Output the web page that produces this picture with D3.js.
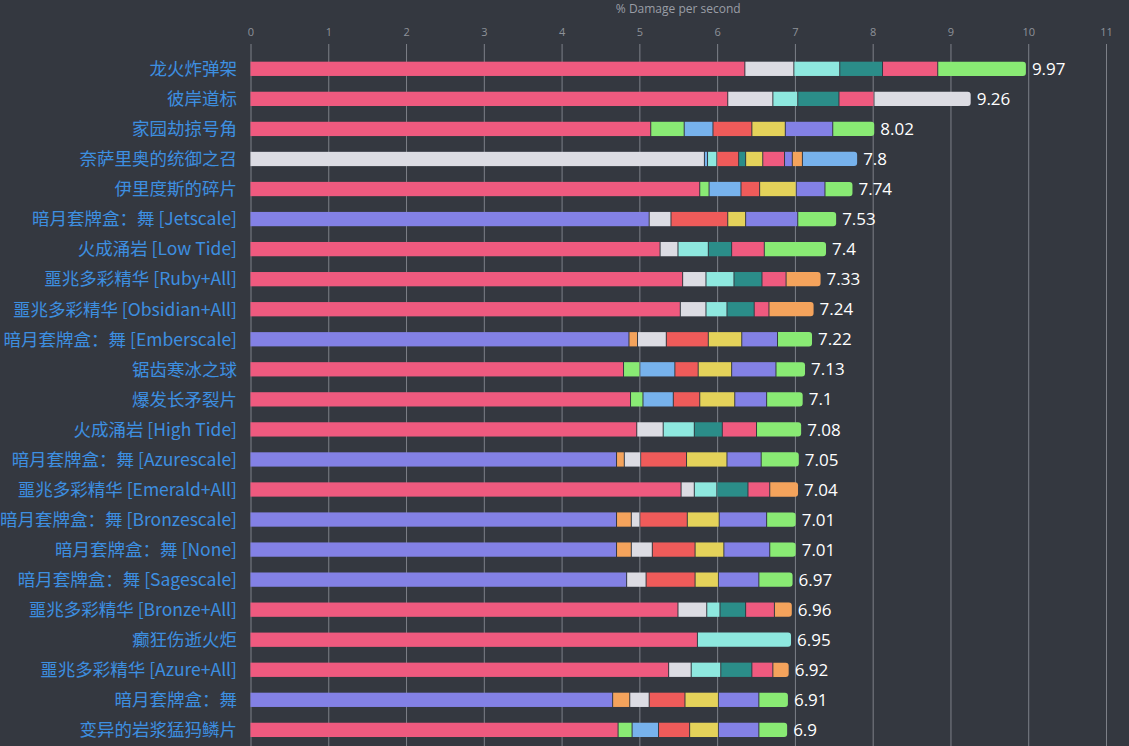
<!DOCTYPE html>
<html>
<head>
<meta charset="utf-8">
<script src="https://cdn.jsdelivr.net/npm/d3@7"></script>
<style>
  html, body { margin: 0; padding: 0; background: #343840; }
  svg { display: block; }
</style>
</head>
<body>
<svg id="chart" width="1129" height="746"></svg>
<script>
const categories = [
  "龙火炸弹架", "彼岸道标", "家园劫掠号角", "奈萨里奥的统御之召", "伊里度斯的碎片",
  "暗月套牌盒：舞 [Jetscale]", "火成涌岩 [Low Tide]", "噩兆多彩精华 [Ruby+All]",
  "噩兆多彩精华 [Obsidian+All]", "暗月套牌盒：舞 [Emberscale]", "锯齿寒冰之球",
  "爆发长矛裂片", "火成涌岩 [High Tide]", "暗月套牌盒：舞 [Azurescale]",
  "噩兆多彩精华 [Emerald+All]", "暗月套牌盒：舞 [Bronzescale]", "暗月套牌盒：舞 [None]",
  "暗月套牌盒：舞 [Sagescale]", "噩兆多彩精华 [Bronze+All]", "癫狂伤逝火炬",
  "噩兆多彩精华 [Azure+All]", "暗月套牌盒：舞", "变异的岩浆猛犸鳞片"
];
const totals = [9.97, 9.26, 8.02, 7.8, 7.74, 7.53, 7.4, 7.33, 7.24, 7.22, 7.13, 7.1,
  7.08, 7.05, 7.04, 7.01, 7.01, 6.97, 6.96, 6.95, 6.92, 6.91, 6.9];
// increment of each stacked segment, per category
const segmentValues = [
  [6.35, 0.63, 0.59, 0.55, 0.71, 1.14],
  [6.13, 0.58, 0.32, 0.53, 0.45, 1.25],
  [5.14, 0.43, 0.37, 0.50, 0.43, 0.61, 0.54],
  [5.83, 0.04, 0.12, 0.28, 0.09, 0.22, 0.28, 0.10, 0.13, 0.71],
  [5.77, 0.12, 0.41, 0.24, 0.47, 0.37, 0.36],
  [5.12, 0.28, 0.73, 0.23, 0.67, 0.50],
  [5.26, 0.23, 0.39, 0.30, 0.42, 0.80],
  [5.55, 0.30, 0.36, 0.36, 0.31, 0.45],
  [5.52, 0.33, 0.27, 0.35, 0.19, 0.58],
  [4.86, 0.11, 0.37, 0.54, 0.43, 0.46, 0.45],
  [4.79, 0.21, 0.45, 0.30, 0.43, 0.57, 0.38],
  [4.88, 0.16, 0.39, 0.34, 0.45, 0.41, 0.47],
  [4.96, 0.34, 0.40, 0.36, 0.44, 0.58],
  [4.70, 0.10, 0.21, 0.59, 0.52, 0.44, 0.49],
  [5.53, 0.17, 0.29, 0.40, 0.28, 0.37],
  [4.70, 0.19, 0.11, 0.61, 0.41, 0.61, 0.38],
  [4.70, 0.19, 0.27, 0.55, 0.37, 0.59, 0.34],
  [4.83, 0.25, 0.63, 0.30, 0.52, 0.44],
  [5.49, 0.37, 0.17, 0.33, 0.37, 0.23],
  [5.74, 1.21],
  [5.37, 0.29, 0.38, 0.40, 0.27, 0.21],
  [4.65, 0.22, 0.25, 0.46, 0.43, 0.52, 0.38],
  [4.72, 0.18, 0.34, 0.40, 0.37, 0.52, 0.37]
];
// series key of each stacked segment, per category
const segmentSeries = [
  ["P","W","C","T","P","G"],
  ["P","W","C","T","P","W"],
  ["P","G","B","R","Y","V","G"],
  ["W","B","C","R","T","Y","P","V","O","B"],
  ["P","G","B","R","Y","V","G"],
  ["V","W","R","Y","V","G"],
  ["P","W","C","T","P","G"],
  ["P","W","C","T","P","O"],
  ["P","W","C","T","P","O"],
  ["V","O","W","R","Y","V","G"],
  ["P","G","B","R","Y","V","G"],
  ["P","G","B","R","Y","V","G"],
  ["P","W","C","T","P","G"],
  ["V","O","W","R","Y","V","G"],
  ["P","W","C","T","P","O"],
  ["V","O","W","R","Y","V","G"],
  ["V","O","W","R","Y","V","G"],
  ["V","W","R","Y","V","G"],
  ["P","W","C","T","P","O"],
  ["P","C"],
  ["P","W","C","T","P","O"],
  ["V","O","W","R","Y","V","G"],
  ["P","G","B","R","Y","V","G"]
];
const seriesKeys = ["P","W","C","T","G","B","R","Y","V","O"];
const xTicks = [0,1,2,3,4,5,6,7,8,9,10,11];
const axisTitle = "% Damage per second";

const color = d3.scaleOrdinal()
  .domain(seriesKeys)
  .range(["#ef5a7f","#dcdce3","#8ee8df","#2b8d89","#89ea74","#77b2ec","#ef5b5a","#e4d25a","#8381e5","#f4a35c"]);

const svg = d3.select("#chart");
const x = d3.scaleLinear().domain([0, 11]).range([250.5, 1106]);
const y = d3.scaleBand().domain(categories).range([53.8, 744.9])
  .paddingInner(0.525).paddingOuter(0.2625);

// axis title
svg.append("text").attr("x", (x(0) + x(11)) / 2).attr("y", 13)
  .attr("text-anchor", "middle").attr("fill", "#9a9ea6")
  .style("font", "12px 'Open Sans', 'Noto Sans', sans-serif").text(axisTitle);

// top axis with gridlines
const axis = d3.axisTop(x).tickValues(xTicks).tickFormat(d3.format("d"))
  .tickSize(-(746 - 44)).tickPadding(8);
const gAxis = svg.append("g").attr("transform", "translate(0,44)").call(axis);
gAxis.select(".domain").remove();
gAxis.selectAll(".tick line").attr("stroke", "#7d8088").attr("stroke-width", 1)
  .attr("y1", 0).attr("y2", 746 - 44);
gAxis.selectAll(".tick text").attr("fill", "#8e9299")
  .style("font", "11px 'Open Sans', 'Noto Sans', sans-serif").attr("y", -8);

// bars
const rows = svg.append("g");
categories.forEach((cat, i) => {
  const vals = segmentValues[i];
  const keys = segmentSeries[i];
  let acc = 0;
  const segs = vals.map((v, j) => { const s = { x0: acc, x1: acc + v, key: keys[j], last: j === vals.length - 1, first: j === 0 }; acc += v; return s; });
  const g = rows.append("g");
  const y0 = y(cat), h = y.bandwidth();
  segs.forEach(s => {
    const px0 = x(s.x0) + (s.first ? 0 : 1);
    const px1 = x(s.x1);
    const w = Math.max(0.8, px1 - px0);
    if (s.last) {
      const r = 3;
      const path = d3.path();
      path.moveTo(px0, y0);
      path.lineTo(px0 + w - r, y0);
      path.arcTo(px0 + w, y0, px0 + w, y0 + r, r);
      path.lineTo(px0 + w, y0 + h - r);
      path.arcTo(px0 + w, y0 + h, px0 + w - r, y0 + h, r);
      path.lineTo(px0, y0 + h);
      path.closePath();
      g.append("path").attr("d", path.toString()).attr("fill", color(s.key));
    } else {
      g.append("rect").attr("x", px0).attr("y", y0).attr("width", w).attr("height", h)
        .attr("fill", color(s.key));
    }
  });
  g.append("text").attr("x", x(totals[i]) + 6).attr("y", y0 + h / 2)
    .attr("dy", "0.36em").attr("fill", "#ffffff")
    .style("font", "17px 'Open Sans', 'Noto Sans', sans-serif").text(totals[i]);
  g.append("text").attr("x", 237).attr("y", y0 + h / 2).attr("dy", "0.36em")
    .attr("text-anchor", "end").attr("fill", "#3d8fe0")
    .style("font", "17.5px 'Noto Sans CJK SC', sans-serif").text(cat);
});
</script>
</body>
</html>
